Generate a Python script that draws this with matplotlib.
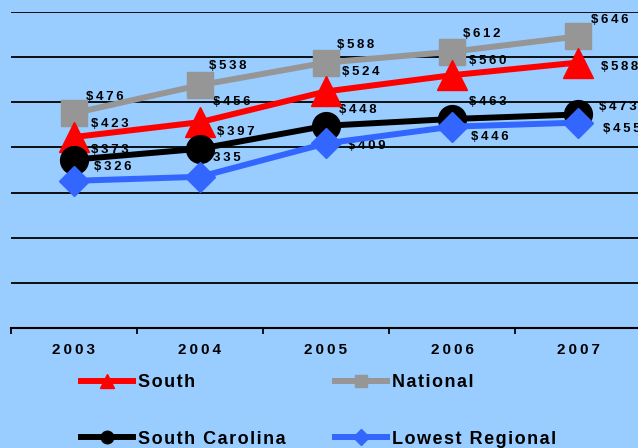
import matplotlib
matplotlib.use("Agg")
import matplotlib.pyplot as plt
from matplotlib.lines import Line2D
from matplotlib.patches import Rectangle

years = ["2003", "2004", "2005", "2006", "2007"]
national = [476, 538, 588, 612, 646]
south = [423, 456, 524, 560, 588]
south_carolina = [373, 397, 448, 463, 473]
lowest_regional = [326, 335, 409, 446, 455]

BG = "#99CCFF"
TS = "\u2009"
HS = "\u200a"
FAM = ["Liberation Sans", "DejaVu Sans"]


def spaced(s, sep=TS):
    return sep.join(s)


series = [
    ("National", national, "#969696", "s", 19, 9, [(12, 16), (9, 19), (11, 18), (11, 18), (13, 16)]),
    ("South", south, "#FF0000", "^", 21, 10, [(17, 13), (13, 20), (16, 19), (17, 14), (23, -4)]),
    ("South Carolina", south_carolina, "#000000", "o", 20, 9, [(17, 10), (17, 17), (13, 16), (17, 17), (21, 7)]),
    ("Lowest Regional", lowest_regional, "#3366FF", "D", 15, 8, [(20, 14), (3, 19), (22, -3), (19, -10), (25, -6)]),
]

fig = plt.figure(figsize=(6.38, 4.48), dpi=100, facecolor=BG)
ax = fig.add_axes([11 / 638, 120 / 448, 630 / 638, 316 / 448])
ax.set_facecolor(BG)
ax.set_xlim(-0.5, len(years) - 0.5)
ax.set_ylim(0, 700)

for y in range(100, 701, 100):
    ax.axhline(y, color="black", lw=1.3, zorder=1)

x = list(range(len(years)))
handles = {}
for name, vals, col, mk, ms, lms, offs in series:
    ax.plot(x, vals, color=col, lw=4.3, marker=mk, ms=ms, mfc=col, mec=col,
            zorder=3, clip_on=False)
    for xi, v, (dx, dy) in zip(x, vals, offs):
        ax.annotate(spaced(f"${v}"), (xi, v), xytext=(dx, dy), textcoords="offset pixels",
                    ha="left", va="center", fontsize=9.5, fontweight="bold",
                    family=FAM, color="black", zorder=2, annotation_clip=False)
    handles[name] = Line2D([], [], color=col, lw=4.3, marker=mk, ms=lms, mfc=col, mec=col)

for s in ["left", "top", "right"]:
    ax.spines[s].set_visible(False)
ax.spines["bottom"].set_linewidth(1.5)
ax.set_yticks([])
ax.set_xticks([i - 0.5 for i in range(len(years) + 1)])
ax.set_xticklabels([])
ax.tick_params(axis="x", which="major", length=4, width=1.3, direction="out")
ax.set_xticks(x, minor=True)
ax.set_xticklabels([spaced(y) for y in years], minor=True, fontsize=11,
                   fontweight="bold", family=FAM)
ax.tick_params(axis="x", which="minor", length=0, pad=11)

fig.patches.append(Rectangle((0, 0), 1, 94 / 448, transform=fig.transFigure,
                             facecolor=BG, edgecolor="none", zorder=1))

order = ["South", "South Carolina", "National", "Lowest Regional"]
leg = fig.legend([handles[n] for n in order], [spaced(n, HS) for n in order],
                 ncol=2, loc="upper left", bbox_to_anchor=(81 / 638, 74 / 448),
                 frameon=False, borderpad=0, borderaxespad=0,
                 handlelength=2.9, handletextpad=0.28, columnspacing=2.7,
                 labelspacing=2.2, prop={"size": 13, "weight": "bold", "family": FAM})
leg.set_zorder(5)

fig.savefig("out.png", dpi=100, facecolor=BG)
